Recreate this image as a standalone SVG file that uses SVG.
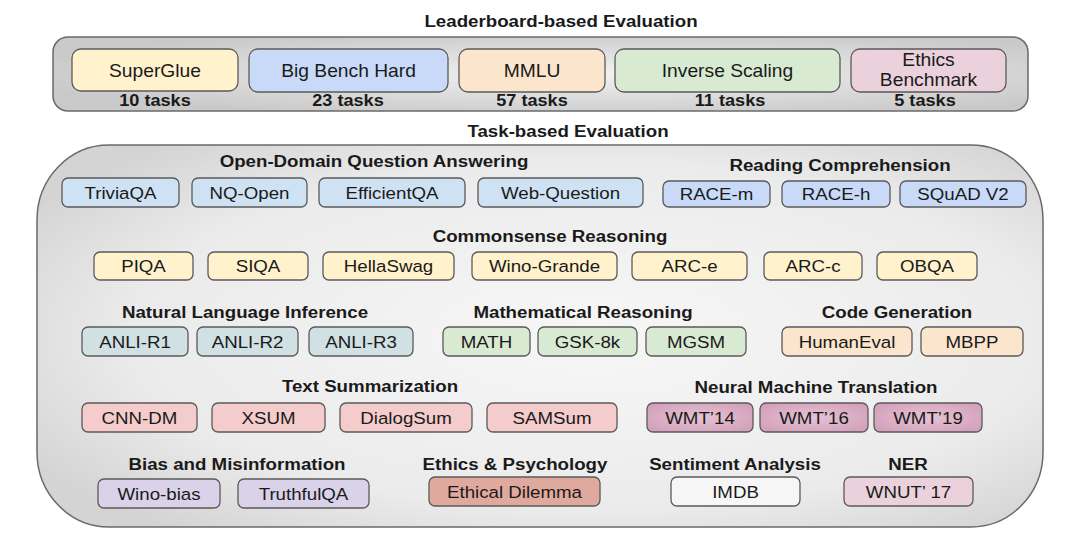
<svg xmlns="http://www.w3.org/2000/svg" width="1069" height="542" viewBox="0 0 1069 542">
<defs>
<radialGradient id="gTop" cx="0.55" cy="0.5" r="0.6">
<stop offset="0" stop-color="#f2f2f2"/>
<stop offset="1" stop-color="#c9c9c9"/>
</radialGradient>
<radialGradient id="gBig" cx="0.55" cy="0.5" r="0.65">
<stop offset="0" stop-color="#f7f7f7"/>
<stop offset="0.7" stop-color="#ebebeb"/>
<stop offset="1" stop-color="#d4d4d4"/>
</radialGradient>
<radialGradient id="gWmt" cx="0.5" cy="0.5" r="0.6">
<stop offset="0" stop-color="#e6c3d4"/>
<stop offset="1" stop-color="#d3a1ba"/>
</radialGradient>
</defs>
<style>
text{font-family:"Liberation Sans",Arial,sans-serif;text-anchor:middle;fill:#1a1a1a}
.t{font-size:17px;font-weight:bold}
.n{font-size:16.5px;font-weight:bold}
.l{font-size:17px}
.L{font-size:17.5px}
.b rect{stroke:#5a5a5a;stroke-width:1.3}
.sq rect{rx:6px}
.top rect{rx:9px}
</style>
<rect width="1069" height="542" fill="#ffffff"/>
<g id="leaderboard">
<rect x="53" y="37" width="975" height="74" rx="15" fill="url(#gTop)" stroke="#6a6a6a" stroke-width="1.5"/>
<text class="t" transform="translate(561,27) scale(1.1,1)">Leaderboard-based Evaluation</text>
<g id="n-superglue" class="b top"><rect x="72" y="49" width="166" height="42" fill="#fff2cc"/><text class="L" transform="translate(155,77) scale(1.1,1)">SuperGlue</text></g>
<g id="n-bbh" class="b top"><rect x="249" y="49" width="199" height="43" fill="#c9daf8"/><text class="L" transform="translate(348.5,77) scale(1.1,1)">Big Bench Hard</text></g>
<g id="n-mmlu" class="b top"><rect x="459" y="49" width="146" height="43" fill="#fce5cd"/><text class="L" transform="translate(532,77) scale(1.1,1)">MMLU</text></g>
<g id="n-inverse" class="b top"><rect x="615" y="49" width="225" height="43" fill="#d9ead3"/><text class="L" transform="translate(727.5,77) scale(1.1,1)">Inverse Scaling</text></g>
<g id="n-ethicsbench" class="b top"><rect x="851" y="49" width="155" height="43" fill="#ead1dc"/><text class="L" transform="translate(928.5,66) scale(1.1,1)">Ethics</text><text class="L" transform="translate(928.5,86) scale(1.1,1)">Benchmark</text></g>
<text class="n" transform="translate(155,106) scale(1.1,1)">10 tasks</text>
<text class="n" transform="translate(348,106) scale(1.1,1)">23 tasks</text>
<text class="n" transform="translate(532,106) scale(1.1,1)">57 tasks</text>
<text class="n" transform="translate(730,106) scale(1.1,1)">11 tasks</text>
<text class="n" transform="translate(925,106) scale(1.1,1)">5 tasks</text>
</g>
<text class="t" transform="translate(568,137) scale(1.1,1)">Task-based Evaluation</text>
<g id="taskbased">
<rect x="37" y="145" width="1006" height="382" rx="72" ry="75" fill="url(#gBig)" stroke="#6a6a6a" stroke-width="1.5"/>
<text class="t" transform="translate(374,167) scale(1.1,1)">Open-Domain Question Answering</text>
<text class="t" transform="translate(840,171) scale(1.1,1)">Reading Comprehension</text>
<text class="t" transform="translate(550,242) scale(1.1,1)">Commonsense Reasoning</text>
<text class="t" transform="translate(245,318) scale(1.1,1)">Natural Language Inference</text>
<text class="t" transform="translate(583,318) scale(1.1,1)">Mathematical Reasoning</text>
<text class="t" transform="translate(897,318) scale(1.1,1)">Code Generation</text>
<text class="t" transform="translate(370,392) scale(1.1,1)">Text Summarization</text>
<text class="t" transform="translate(816,393) scale(1.1,1)">Neural Machine Translation</text>
<text class="t" transform="translate(237,470) scale(1.1,1)">Bias and Misinformation</text>
<text class="t" transform="translate(515,470) scale(1.1,1)">Ethics &amp; Psychology</text>
<text class="t" transform="translate(735,470) scale(1.1,1)">Sentiment Analysis</text>
<text class="t" transform="translate(908,470) scale(1.1,1)">NER</text>
</g>
<g id="n-triviaqa" class="b sq"><rect x="62" y="178" width="117" height="29" fill="#cfe2f3"/><text class="l" transform="translate(120.5,198.5) scale(1.1,1)">TriviaQA</text></g>
<g id="n-nqopen" class="b sq"><rect x="192" y="178" width="115" height="29" fill="#cfe2f3"/><text class="l" transform="translate(249.5,198.5) scale(1.1,1)">NQ-Open</text></g>
<g id="n-efficientqa" class="b sq"><rect x="319" y="178" width="146" height="29" fill="#cfe2f3"/><text class="l" transform="translate(392,198.5) scale(1.1,1)">EfficientQA</text></g>
<g id="n-webq" class="b sq"><rect x="478" y="178" width="165" height="29" fill="#cfe2f3"/><text class="l" transform="translate(560.5,198.5) scale(1.1,1)">Web-Question</text></g>
<g id="n-racem" class="b sq"><rect x="663" y="181" width="107" height="26" fill="#c9daf8"/><text class="l" transform="translate(716.5,200) scale(1.1,1)">RACE-m</text></g>
<g id="n-raceh" class="b sq"><rect x="782" y="181" width="108" height="26" fill="#c9daf8"/><text class="l" transform="translate(836,200) scale(1.1,1)">RACE-h</text></g>
<g id="n-squad" class="b sq"><rect x="900" y="181" width="126" height="26" fill="#c9daf8"/><text class="l" transform="translate(963,200) scale(1.1,1)">SQuAD V2</text></g>
<g id="n-piqa" class="b sq"><rect x="94" y="252" width="99" height="28" fill="#fff2cc"/><text class="l" transform="translate(143.5,272) scale(1.1,1)">PIQA</text></g>
<g id="n-siqa" class="b sq"><rect x="208" y="252" width="100" height="28" fill="#fff2cc"/><text class="l" transform="translate(258,272) scale(1.1,1)">SIQA</text></g>
<g id="n-hellaswag" class="b sq"><rect x="323" y="252" width="131" height="28" fill="#fff2cc"/><text class="l" transform="translate(388.5,272) scale(1.1,1)">HellaSwag</text></g>
<g id="n-winogrande" class="b sq"><rect x="472" y="252" width="145" height="28" fill="#fff2cc"/><text class="l" transform="translate(544.5,272) scale(1.1,1)">Wino-Grande</text></g>
<g id="n-arce" class="b sq"><rect x="632" y="252" width="115" height="28" fill="#fff2cc"/><text class="l" transform="translate(689.5,272) scale(1.1,1)">ARC-e</text></g>
<g id="n-arcc" class="b sq"><rect x="764" y="252" width="98" height="28" fill="#fff2cc"/><text class="l" transform="translate(813,272) scale(1.1,1)">ARC-c</text></g>
<g id="n-obqa" class="b sq"><rect x="877" y="252" width="100" height="28" fill="#fff2cc"/><text class="l" transform="translate(927,272) scale(1.1,1)">OBQA</text></g>
<g id="n-anlir1" class="b sq"><rect x="82" y="327" width="106" height="29" fill="#d0e0e3"/><text class="l" transform="translate(135,347.5) scale(1.1,1)">ANLI-R1</text></g>
<g id="n-anlir2" class="b sq"><rect x="197" y="327" width="101" height="29" fill="#d0e0e3"/><text class="l" transform="translate(247.5,347.5) scale(1.1,1)">ANLI-R2</text></g>
<g id="n-anlir3" class="b sq"><rect x="309" y="327" width="104" height="29" fill="#d0e0e3"/><text class="l" transform="translate(361,347.5) scale(1.1,1)">ANLI-R3</text></g>
<g id="n-math" class="b sq"><rect x="443" y="327" width="87" height="29" fill="#d9ead3"/><text class="l" transform="translate(486.5,347.5) scale(1.1,1)">MATH</text></g>
<g id="n-gsk8k" class="b sq"><rect x="538" y="327" width="99" height="29" fill="#d9ead3"/><text class="l" transform="translate(587.5,347.5) scale(1.1,1)">GSK-8k</text></g>
<g id="n-mgsm" class="b sq"><rect x="646" y="327" width="100" height="29" fill="#d9ead3"/><text class="l" transform="translate(696,347.5) scale(1.1,1)">MGSM</text></g>
<g id="n-humaneval" class="b sq"><rect x="782" y="327" width="130" height="29" fill="#fce5cd"/><text class="l" transform="translate(847,347.5) scale(1.1,1)">HumanEval</text></g>
<g id="n-mbpp" class="b sq"><rect x="921" y="327" width="102" height="29" fill="#fce5cd"/><text class="l" transform="translate(972,347.5) scale(1.1,1)">MBPP</text></g>
<g id="n-cnndm" class="b sq"><rect x="82" y="403" width="115" height="29" fill="#f4cccc"/><text class="l" transform="translate(139.5,423.5) scale(1.1,1)">CNN-DM</text></g>
<g id="n-xsum" class="b sq"><rect x="212" y="403" width="113" height="29" fill="#f4cccc"/><text class="l" transform="translate(268.5,423.5) scale(1.1,1)">XSUM</text></g>
<g id="n-dialogsum" class="b sq"><rect x="340" y="403" width="132" height="29" fill="#f4cccc"/><text class="l" transform="translate(406,423.5) scale(1.1,1)">DialogSum</text></g>
<g id="n-samsum" class="b sq"><rect x="487" y="403" width="130" height="29" fill="#f4cccc"/><text class="l" transform="translate(552,423.5) scale(1.1,1)">SAMSum</text></g>
<g id="n-wmt14" class="b sq"><rect x="647" y="403" width="106" height="29" fill="url(#gWmt)"/><text class="l" transform="translate(700,423.5) scale(1.1,1)">WMT’14</text></g>
<g id="n-wmt16" class="b sq"><rect x="760" y="403" width="108" height="29" fill="url(#gWmt)"/><text class="l" transform="translate(814,423.5) scale(1.1,1)">WMT’16</text></g>
<g id="n-wmt19" class="b sq"><rect x="874" y="403" width="108" height="29" fill="url(#gWmt)"/><text class="l" transform="translate(928,423.5) scale(1.1,1)">WMT’19</text></g>
<g id="n-winobias" class="b sq"><rect x="98" y="479" width="122" height="29" fill="#d9d2e9"/><text class="l" transform="translate(159,499.5) scale(1.1,1)">Wino-bias</text></g>
<g id="n-truthfulqa" class="b sq"><rect x="238" y="479" width="131" height="29" fill="#d9d2e9"/><text class="l" transform="translate(303.5,499.5) scale(1.1,1)">TruthfulQA</text></g>
<g id="n-dilemma" class="b sq"><rect x="429" y="477" width="171" height="29" fill="#e0a99e"/><text class="l" transform="translate(514.5,497.5) scale(1.1,1)">Ethical Dilemma</text></g>
<g id="n-imdb" class="b sq"><rect x="671" y="477" width="129" height="29" fill="#f6f6f6"/><text class="l" transform="translate(735.5,497.5) scale(1.1,1)">IMDB</text></g>
<g id="n-wnut" class="b sq"><rect x="844" y="477" width="129" height="29" fill="#ead1dc"/><text class="l" transform="translate(908.5,497.5) scale(1.1,1)">WNUT’ 17</text></g>
<g id="connectors"></g>
</svg>
